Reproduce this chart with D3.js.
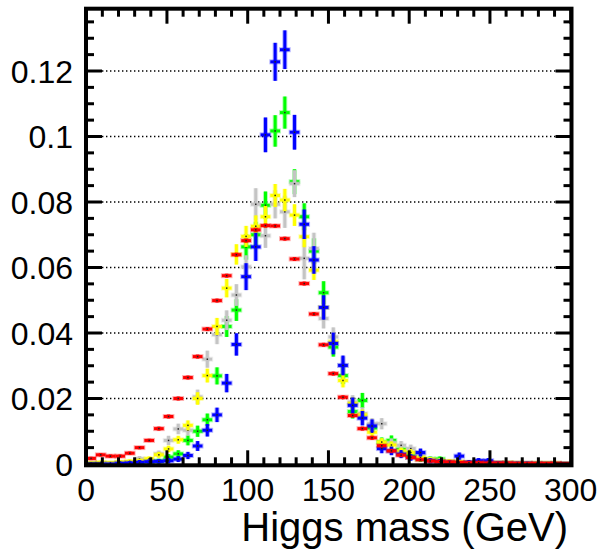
<!DOCTYPE html>
<html>
<head>
<meta charset="utf-8">
<script src="https://cdn.jsdelivr.net/npm/d3@7/dist/d3.min.js"></script>
<style>
  html, body { margin: 0; padding: 0; background: #fff; }
  svg { display: block; }
  text { font-family: "Liberation Sans", Arial, sans-serif; fill: #000; }
</style>
</head>
<body>
<svg id="chart" width="602" height="551"></svg>
<script>
// ---- data (bins of 6 GeV from 0 to 300) ----
const binEdges = d3.range(0, 301, 6);
const xTickLabels = ["0", "50", "100", "150", "200", "250", "300"];
const yTickLabels = ["0", "0.02", "0.04", "0.06", "0.08", "0.1", "0.12"];
const axisTitle = "Higgs mass (GeV)";

const redValues = [0.0017,0.0028,0.0024,0.0024,0.0033,0.0050,0.0072,0.0108,0.0145,0.0200,
  0.0264,0.0328,0.0412,0.0499,0.0575,0.0639,0.0682,0.0715,0.0728,0.0727,
  0.0688,0.0626,0.0551,0.0458,0.0364,0.0276,0.0204,0.0148,0.0108,0.0080,
  0.0056,0.0040,0.0027,0.0020,0.0013,0.0009,0.0007,0.0006,0.0005,0.0004,
  0.0004,0.0003,0.0003,0.0003,0.0002,0.0002,0.0002,0.0002,0.0002,0.0001];
const redErrors = [0.0002,0.0002,0.0002,0.0002,0.0002,0.0002,0.0002,0.0003,0.0003,0.0003,
  0.0003,0.0003,0.0003,0.0003,0.0003,0.0003,0.0003,0.0003,0.0003,0.0003,
  0.0003,0.0003,0.0003,0.0003,0.0003,0.0003,0.0003,0.0003,0.0003,0.0003,
  0.0002,0.0002,0.0002,0.0002,0.0001,0.0001,0.0001,0.0001,0.0001,0.0001,
  0.0001,0.0001,0.0001,0.0001,0.0001,0.0001,0.0001,0.0001,0.0001,0.0001];

const yellowValues = [0.0003,0.0005,0.0004,0.0006,0.0008,0.0010,0.0016,0.0028,0.0046,0.0074,
  0.0118,0.0200,0.0270,0.0420,0.0537,0.0640,0.0695,0.0726,0.0755,0.0820,
  0.0806,0.0760,0.0694,0.0592,0.0478,0.0373,0.0255,0.0185,0.0150,0.0097,
  0.0067,0.0058,0.0040,0.0035,0.0020,0.0014,0.0010,0.0008,0.0006,0.0005,
  0.0004,0.0004,0.0003,0.0003,0.0003,0.0002,0.0002,0.0002,0.0002,0.0001];
const yellowErrors = [0.0002,0.0002,0.0002,0.0003,0.0003,0.0003,0.0004,0.0006,0.0007,0.0009,
  0.0012,0.0016,0.0018,0.0023,0.0025,0.0028,0.0029,0.0030,0.0030,0.0032,
  0.0031,0.0030,0.0029,0.0027,0.0024,0.0021,0.0018,0.0015,0.0013,0.0011,
  0.0009,0.0008,0.0007,0.0007,0.0005,0.0004,0.0003,0.0003,0.0003,0.0002,
  0.0002,0.0002,0.0002,0.0002,0.0002,0.0002,0.0002,0.0002,0.0002,0.0001];

const grayValues = [0.0002,0.0003,0.0002,0.0005,0.0004,0.0016,0.0010,0.0031,0.0072,0.0107,
  0.0103,0.0205,0.0320,0.0395,0.0439,0.0516,0.0602,0.0793,0.0697,0.0793,
  0.0770,0.0856,0.0628,0.0658,0.0444,0.0388,0.0301,0.0189,0.0154,0.0123,
  0.0123,0.0065,0.0057,0.0047,0.0025,0.0014,0.0010,0.0008,0.0006,0.0005,
  0.0004,0.0004,0.0003,0.0003,0.0003,0.0002,0.0002,0.0002,0.0002,0.0001];
const grayErrors = [0.0002,0.0002,0.0002,0.0003,0.0003,0.0005,0.0004,0.0007,0.0011,0.0013,
  0.0013,0.0019,0.0023,0.0026,0.0027,0.0030,0.0032,0.0046,0.0034,0.0040,
  0.0046,0.0038,0.0061,0.0045,0.0027,0.0026,0.0023,0.0018,0.0016,0.0014,
  0.0014,0.0010,0.0010,0.0009,0.0007,0.0005,0.0004,0.0004,0.0003,0.0003,
  0.0003,0.0003,0.0002,0.0002,0.0002,0.0002,0.0002,0.0002,0.0002,0.0001];

const greenValues = [0.0001,0.0001,0.0001,0.0002,0.0002,0.0003,0.0007,0.0009,0.0021,0.0031,
  0.0072,0.0100,0.0135,0.0269,0.0420,0.0470,0.0663,0.0700,0.0790,0.1017,
  0.1073,0.0862,0.0755,0.0650,0.0523,0.0357,0.0270,0.0160,0.0194,0.0110,
  0.0067,0.0072,0.0045,0.0025,0.0015,0.0015,0.0015,0.0006,0.0005,0.0004,
  0.0004,0.0003,0.0003,0.0003,0.0002,0.0002,0.0002,0.0002,0.0002,0.0001];
const greenErrors = [0.0001,0.0001,0.0001,0.0002,0.0002,0.0002,0.0004,0.0004,0.0006,0.0008,
  0.0012,0.0014,0.0016,0.0023,0.0029,0.0030,0.0036,0.0037,0.0039,0.0045,
  0.0046,0.0035,0.0038,0.0036,0.0032,0.0026,0.0023,0.0018,0.0020,0.0015,
  0.0011,0.0012,0.0009,0.0007,0.0005,0.0005,0.0005,0.0003,0.0003,0.0003,
  0.0003,0.0002,0.0002,0.0002,0.0002,0.0002,0.0002,0.0002,0.0002,0.0001];

const blueValues = [0,0,0,0.0002,0.0003,0.0005,0.0007,0.0008,0.0010,0.0015,
  0.0026,0.0055,0.0103,0.0150,0.0247,0.0365,0.0572,0.0663,0.1005,0.1228,
  0.1265,0.1013,0.0732,0.0623,0.0478,0.0368,0.0301,0.0179,0.0140,0.0116,
  0.0047,0.0040,0.0030,0.0020,0.0035,0.0010,0.0008,0.0005,0.0024,0.0005,
  0.0010,0.0010,0.0003,0.0002,0.0002,0.0002,0.0001,0.0001,0.0001,0.0001];
const blueErrors = [0,0,0,0.0002,0.0003,0.0004,0.0004,0.0004,0.0005,0.0006,
  0.0008,0.0012,0.0016,0.0019,0.0025,0.0031,0.0038,0.0040,0.0050,0.0055,
  0.0056,0.0050,0.0042,0.0039,0.0034,0.0030,0.0027,0.0021,0.0019,0.0017,
  0.0011,0.0010,0.0009,0.0007,0.0009,0.0005,0.0004,0.0004,0.0008,0.0004,
  0.0005,0.0005,0.0003,0.0002,0.0002,0.0002,0.0002,0.0002,0.0002,0.0002];

// drawing order: first is at the back
const seriesNames = ["green", "gray", "yellow", "blue", "red"];
const seriesColors = ["#00ff00", "#c4c4c4", "#ffff00", "#0000ff", "#ff0000"];
const seriesValues = [greenValues, grayValues, yellowValues, blueValues, redValues];
const seriesErrors = [greenErrors, grayErrors, yellowErrors, blueErrors, redErrors];

// ---- layout ----
const frame = { left: 86, right: 571.5, top: 8.7, bottom: 465.3 };
const x = d3.scaleLinear().domain([0, 300]).range([86.2, 570.7]);
const y = d3.scaleLinear().domain([0, 0.12]).range([464, 71]);
const yTop = y.invert(frame.top);

const svg = d3.select("#chart");

// dotted grid lines at major y ticks
const yMajor = d3.range(0.02, 0.1201, 0.02);
svg.append("g").selectAll("line").data(yMajor).join("line")
  .attr("x1", frame.left).attr("x2", frame.right)
  .attr("y1", d => y(d)).attr("y2", d => y(d))
  .attr("stroke", "#000").attr("stroke-width", 1.4)
  .attr("stroke-dasharray", "1.4,2.6");

// ---- data points ----
const gData = svg.append("g");
seriesValues.forEach((vals, si) => {
  const color = seriesColors[si];
  const errs = seriesErrors[si];
  const pts = vals.map((v, i) => ({
    lo: binEdges[i], hi: binEdges[i + 1], c: (binEdges[i] + binEdges[i + 1]) / 2,
    v: v, e: errs[i]
  }));
  const g = gData.append("g").attr("class", "series-" + seriesNames[si]);
  // soft halo
  g.selectAll("line.hh").data(pts).join("line").attr("class", "hh")
    .attr("x1", d => x(d.lo) - 1).attr("x2", d => x(d.hi) + 1)
    .attr("y1", d => y(d.v)).attr("y2", d => y(d.v))
    .attr("stroke", color).attr("stroke-opacity", 0.3).attr("stroke-width", 5);
  g.selectAll("line.vh").data(pts).join("line").attr("class", "vh")
    .attr("x1", d => x(d.c)).attr("x2", d => x(d.c))
    .attr("y1", d => y(d.v - d.e) + 1).attr("y2", d => y(d.v + d.e) - 1)
    .attr("stroke", color).attr("stroke-opacity", 0.3).attr("stroke-width", 5);
  // error bars
  g.selectAll("line.h").data(pts).join("line").attr("class", "h")
    .attr("x1", d => x(d.lo)).attr("x2", d => x(d.hi))
    .attr("y1", d => y(d.v)).attr("y2", d => y(d.v))
    .attr("stroke", color).attr("stroke-width", 3);
  g.selectAll("line.v").data(pts).join("line").attr("class", "v")
    .attr("x1", d => x(d.c)).attr("x2", d => x(d.c))
    .attr("y1", d => y(d.v - d.e) + 1).attr("y2", d => y(d.v + d.e) - 1)
    .attr("stroke", color).attr("stroke-width", 3);
  g.selectAll("rect.m").data(pts).join("rect").attr("class", "m")
    .attr("x", d => x(d.c) - 0.75).attr("y", d => y(d.v) - 0.75)
    .attr("width", 1.5).attr("height", 1.5).attr("fill", "#222");
});

// ---- frame and ticks ----
const axG = svg.append("g").attr("stroke", "#000").attr("stroke-width", 3).attr("fill", "none");
axG.append("rect")
  .attr("x", frame.left).attr("y", frame.top)
  .attr("width", frame.right - frame.left).attr("height", frame.bottom - frame.top)
  .attr("stroke-width", 4);

const xMinor = d3.range(0, 301, 10);
xMinor.forEach(t => {
  const len = (t % 50 === 0) ? 15 : 8;
  axG.append("line").attr("x1", x(t)).attr("x2", x(t))
    .attr("y1", frame.bottom).attr("y2", frame.bottom - len);
  axG.append("line").attr("x1", x(t)).attr("x2", x(t))
    .attr("y1", frame.top).attr("y2", frame.top + len);
});
const yMinor = d3.range(0, yTop, 0.005);
yMinor.forEach(t => {
  const major = Math.abs(t / 0.02 - Math.round(t / 0.02)) < 1e-6;
  const len = major ? 16 : 8;
  axG.append("line").attr("y1", y(t)).attr("y2", y(t))
    .attr("x1", frame.left).attr("x2", frame.left + len);
  axG.append("line").attr("y1", y(t)).attr("y2", y(t))
    .attr("x1", frame.right).attr("x2", frame.right - len);
});

// ---- labels ----
const xTickVals = xTickLabels.map(Number);
svg.append("g").selectAll("text").data(xTickLabels).join("text")
  .attr("x", (d, i) => x(xTickVals[i])).attr("y", 501)
  .attr("text-anchor", "middle").attr("font-size", 32).text(d => d);

const yTickVals = yTickLabels.map(Number);
svg.append("g").selectAll("text").data(yTickLabels).join("text")
  .attr("x", 73).attr("y", (d, i) => y(yTickVals[i]) + 11.5)
  .attr("text-anchor", "end").attr("font-size", 32).text(d => d);

svg.append("text").attr("x", 568).attr("y", 541)
  .attr("text-anchor", "end").attr("font-size", 40).text(axisTitle);
</script>
</body>
</html>
